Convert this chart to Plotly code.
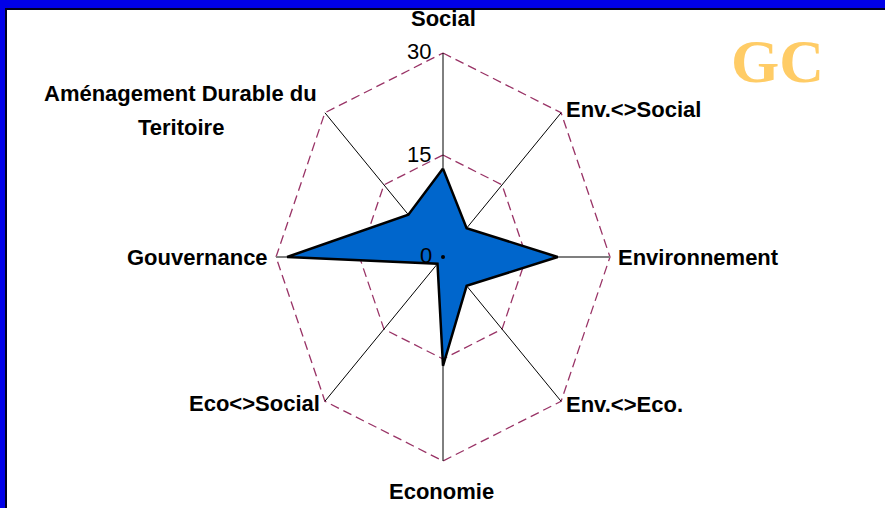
import numpy as np
import plotly.graph_objects as go

categories = ["Social", "Env.<>Social", "Environnement", "Env.<>Eco.",
              "Economie", "Eco<>Social", "Gouvernance",
              "Aménagement Durable du<br>Teritoire"]
values = [13, 6, 20.6, 6, 16, 1.4, 28, 8.8]
tick_values = [0, 15, 30]
tick_labels = ["0", "15", "30"]
r_max = 30

n = len(categories)
theta = np.arange(n) * 2 * np.pi / n

def to_xy(r, th):
    return np.asarray(r) * np.sin(th), np.asarray(r) * np.cos(th)

fig = go.Figure()

# dashed octagonal grid rings
grid_col = "#993366"
for tv in tick_values[1:]:
    gx, gy = to_xy([tv] * (n + 1), np.append(theta, theta[0]))
    fig.add_trace(go.Scatter(x=gx, y=gy, mode="lines",
                             line=dict(color=grid_col, width=1.3, dash="9px,5px"),
                             hoverinfo="skip", showlegend=False))

# spokes
for i, th in enumerate(theta):
    sx, sy = to_xy([0, r_max], np.array([th, th]))
    horiz = abs(np.sin(th)) > 0.99
    fig.add_trace(go.Scatter(x=sx, y=sy, mode="lines",
                             line=dict(color="#7F7F7F" if horiz else "#000000",
                                       width=2 if horiz else 1),
                             hoverinfo="skip", showlegend=False))

# data polygon
dx, dy = to_xy(values + [values[0]], np.append(theta, theta[0]))
fig.add_trace(go.Scatter(x=dx, y=dy, mode="lines", fill="toself",
                         fillcolor="#0066CC",
                         line=dict(color="#000000", width=2.5),
                         showlegend=False))
fig.add_trace(go.Scatter(x=[0], y=[0], mode="markers",
                         marker=dict(color="#000000", size=4),
                         hoverinfo="skip", showlegend=False))

lab_font = dict(family="Liberation Sans, Arial, sans-serif",
                size=22, color="#000000", weight="bold")
tick_font = dict(family="Liberation Sans, Arial, sans-serif",
                 size=22, color="#000000")

# tick labels
tick_shift = {0: (-9, 2), 15: (-10, 1), 30: (-10, 2)}
for tv, tl in zip(tick_values, tick_labels):
    xs, ys = tick_shift[tv]
    fig.add_annotation(x=0, y=tv, text=tl, showarrow=False, font=tick_font,
                       xanchor="right", yanchor="middle", xshift=xs, yshift=ys)

# category labels
placements = [
    ("center", "bottom", 0, 20),
    ("left", "middle", 3, 3),
    ("left", "middle", 6, 0),
    ("left", "middle", 3, -3),
    ("center", "top", -2, -16),
    ("right", "middle", -3, -2),
    ("right", "middle", -6, 0),
    ("center", "middle", -144, 19),
]
line_gap = 34
for cat, th, (xa, ya, xs, ys) in zip(categories, theta, placements):
    lx, ly = to_xy(r_max, th)
    for k, part in enumerate(cat.split("<br>")):
        fig.add_annotation(x=float(lx), y=float(ly), text=part, showarrow=False,
                           font=lab_font, xanchor=xa, yanchor=ya, xshift=xs,
                           yshift=ys - k * line_gap, align="center")

W, H = 885, 508
cx, cy = 443, 257
sx_px = 167 / r_max
sy_px = 204 / r_max

# GC logo text
fig.add_annotation(x=777 / W, y=(H - 61) / H, xref="paper", yref="paper",
                   text="<b>GC</b>", showarrow=False,
                   font=dict(family="Liberation Serif, Times New Roman, serif",
                             size=62, color="#FFCC66"),
                   xanchor="center", yanchor="middle")

fig.update_layout(
    width=W, height=H,
    margin=dict(l=0, r=0, t=0, b=0),
    paper_bgcolor="#FFFFFF", plot_bgcolor="#FFFFFF",
    xaxis=dict(range=[-cx / sx_px, (W - cx) / sx_px], visible=False, fixedrange=True),
    yaxis=dict(range=[-(H - cy) / sy_px, cy / sy_px], visible=False, fixedrange=True),
    showlegend=False,
    shapes=[
        dict(type="rect", xref="paper", yref="paper", x0=0, x1=1,
             y0=1 - 8 / H, y1=1, fillcolor="#0000E8", line=dict(width=0), layer="above"),
        dict(type="rect", xref="paper", yref="paper", x0=0, x1=1,
             y0=1 - 10 / H, y1=1 - 8 / H, fillcolor="#000020", line=dict(width=0), layer="above"),
        dict(type="rect", xref="paper", yref="paper", x0=0, x1=5 / W,
             y0=0, y1=1, fillcolor="#0000E8", line=dict(width=0), layer="above"),
        dict(type="rect", xref="paper", yref="paper", x0=5 / W, x1=7 / W,
             y0=0, y1=1 - 8 / H, fillcolor="#000020", line=dict(width=0), layer="above"),
    ],
)

fig.write_html("out.html", config=dict(displayModeBar=False),
               post_script="document.body.style.margin='0';document.body.style.overflow='hidden';")
